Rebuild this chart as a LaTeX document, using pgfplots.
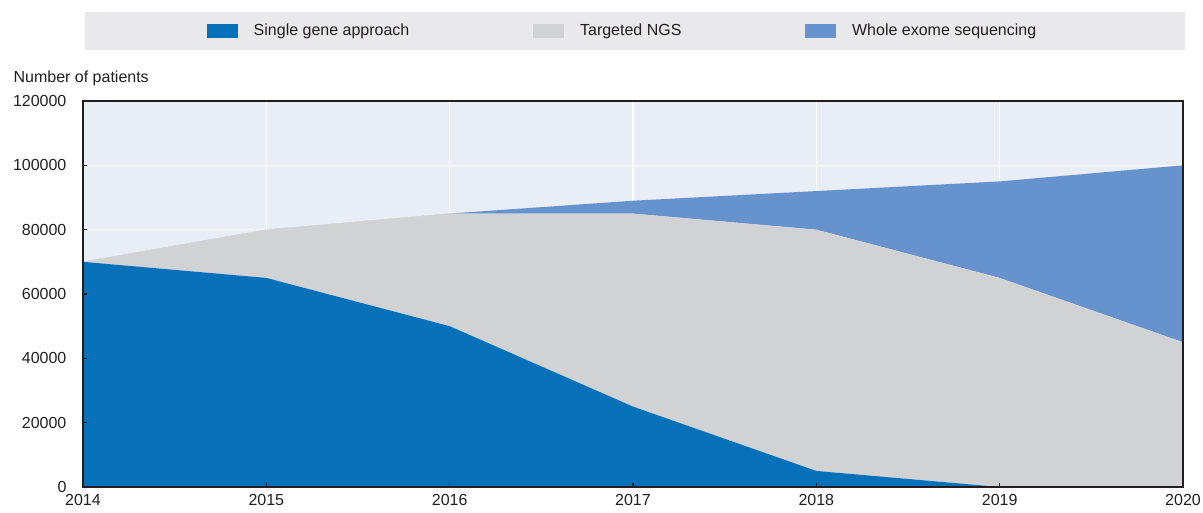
\documentclass[border=0pt]{standalone}
\usepackage{pgfplots}
\pgfplotsset{compat=1.18}
\usepackage{pgfplotstable}
\usepackage{fontspec}
\setmainfont{Liberation Sans}
\definecolor{cSingle}{RGB}{6,112,185}
\definecolor{cNGS}{RGB}{209,210,212}
\definecolor{cWES}{RGB}{102,147,206}
\definecolor{cPlotBg}{RGB}{232,237,246}
\definecolor{cLegBg}{RGB}{233,233,235}
\definecolor{cAxis}{RGB}{35,31,32}
\definecolor{cText}{RGB}{35,31,32}
\pgfplotstableread{
year single ngs wes
2014 70000 0 0
2015 65000 15000 0
2016 50000 35000 0
2017 25000 60000 4000
2018 5000 75000 12000
2019 0 65000 30000
2020 0 45000 55000
}\datatable
\pgfplotsset{
  common/.style={
    at={(0,0)}, anchor=south west,
    scale only axis,
    width=825pt, height=289.5pt,
    xmin=2014, xmax=2020, ymin=0, ymax=120000,
    xtick={2014,2015,2016,2017,2018,2019,2020},
    ytick={0,20000,40000,60000,80000,100000,120000},
    scaled ticks=false,
  }
}
\begin{document}
\fontsize{12pt}{14pt}\selectfont
\begin{tikzpicture}
\useasboundingbox (-62.25pt,-18.75pt) rectangle (840pt,365.25pt);
\fill[cLegBg] (1.5pt,327.75pt) rectangle (826.5pt,356.25pt);
\begin{axis}[
  common,
  axis line style={draw=none},
  xticklabels={}, yticklabels={},
  major tick length=0pt,
  axis background/.style={fill=cPlotBg},
  grid=major,
  major grid style={white, line width=1.1pt},
  stack plots=y,
  area legend,
  legend columns=3,
  legend style={draw=none, fill=none, at={(axis description cs:0.5,1)}, anchor=center, xshift=-7.5pt, yshift=52.5pt, font=\fontsize{12pt}{14pt}\selectfont, text=cText,
    /tikz/every odd column/.append style={column sep=9.75pt},
    /tikz/every even column/.append style={column sep=91pt}},
  legend image code/.code={\fill[#1] (0pt,-5.25pt) rectangle (23.25pt,5.25pt);},
  legend cell align=left,
]
\addplot[fill=cSingle, draw=none] table[x=year, y=single] {\datatable} \closedcycle;
\addlegendentry{Single gene approach}
\addplot[fill=cNGS, draw=none] table[x=year, y=ngs] {\datatable} \closedcycle;
\addlegendentry{Targeted NGS}
\addplot[fill=cWES, draw=none] table[x=year, y=wes] {\datatable} \closedcycle;
\addlegendentry{Whole exome sequencing}
\end{axis}
\begin{axis}[
  common,
  xticklabels={2014,2015,2016,2017,2018,2019,2020},
  yticklabels={0,20000,40000,60000,80000,100000,120000},
  tick pos=left,
  tick align=inside,
  major tick length=3pt,
  tick style={cAxis, line width=0.8pt},
  axis line style={cAxis, line width=1pt},
  ticklabel style={font=\fontsize{12pt}{14pt}\selectfont, text=cText},
  yticklabel style={xshift=-8.25pt},
  xticklabel style={yshift=-1.5pt},
  ylabel={Number of patients},
  ylabel style={rotate=-90, at={(axis description cs:0,1)}, anchor=base west, xshift=-56.25pt, yshift=14.25pt, font=\fontsize{12pt}{14pt}\selectfont, text=cText},
]
\end{axis}
\end{tikzpicture}
\end{document}
